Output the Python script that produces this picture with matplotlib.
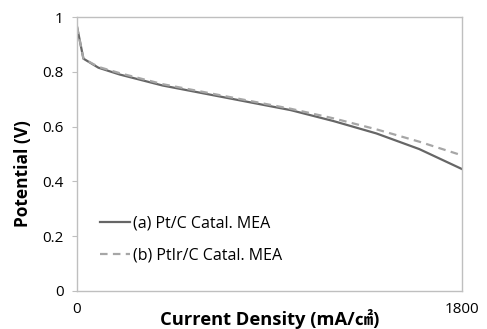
import numpy as np
import matplotlib
matplotlib.use("Agg")
import matplotlib.pyplot as plt

plt.rcParams['font.family'] = ['Open Sans', 'Noto Sans CJK KR', 'DejaVu Sans']

# current density (mA/cm2) and cell potential (V)
current = [0, 30, 100, 200, 400, 600, 800, 1000, 1200, 1400, 1600, 1800]
pt_c = [0.965, 0.848, 0.815, 0.790, 0.750, 0.720, 0.690, 0.660, 0.620, 0.575, 0.518, 0.445]
ptir_c = [0.965, 0.848, 0.818, 0.795, 0.755, 0.725, 0.695, 0.665, 0.630, 0.590, 0.545, 0.495]

labels = ["(a) Pt/C Catal. MEA", "(b) PtIr/C Catal. MEA"]

fig = plt.figure(figsize=(4.87, 3.29), dpi=100)
ax = fig.add_axes([77/487, 1 - 291/329, 385/487, 274/329])

ax.plot(current, pt_c, color="#666666", lw=1.6, label=labels[0])
ax.plot(current, ptir_c, color="#a6a6a6", lw=1.6, ls=(0, (3.4, 2.4)), label=labels[1])

ax.set_xlim(0, 1800)
ax.set_ylim(0, 1)
ax.set_xticks([0, 1800])
ax.set_yticks([0, 0.2, 0.4, 0.6, 0.8, 1.0])
ax.set_yticklabels(["0", "0.2", "0.4", "0.6", "0.8", "1"])
ax.tick_params(axis="y", length=3.6, color="#bfbfbf", labelsize=11, pad=6)
ax.tick_params(axis="x", length=0, labelsize=11, pad=8)
for s in ax.spines.values():
    s.set_color("#bfbfbf")
    s.set_linewidth(1)

ax.set_xlabel("Current Density (mA/㎠)", fontsize=13.2, fontweight="bold")
ax.set_ylabel("Potential (V)", fontsize=12.5, fontweight="bold")
ax.xaxis.set_label_coords(0.5, -0.066)
ax.yaxis.set_label_coords(-0.117, 0.43)

ax.legend(loc="upper left", bbox_to_anchor=(0.06, 0.277), frameon=False,
          borderpad=0, borderaxespad=0,
          fontsize=11.5, handlelength=1.9, handletextpad=0.15, labelspacing=1.05)

fig.savefig("out.png", dpi=100)
